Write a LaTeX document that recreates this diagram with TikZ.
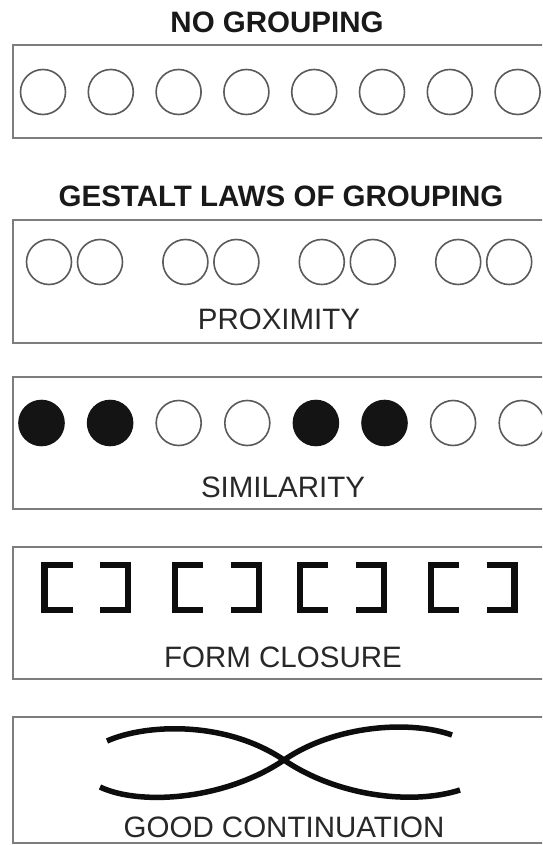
\documentclass[tikz,border=0pt]{standalone}
\usepackage{fontspec}
\setmainfont{Liberation Sans}
\definecolor{boxgray}{RGB}{125,125,125}
\definecolor{circgray}{RGB}{90,90,90}
\definecolor{titlecol}{RGB}{25,25,25}
\definecolor{lblcol}{RGB}{40,40,40}
\begin{document}
\begin{tikzpicture}[x=1pt,y=-1pt,
  panel/.style={draw=boxgray,line width=2pt},
  circ/.style={circle,draw=circgray,line width=1.6pt,minimum size=45pt,inner sep=0pt,outer sep=0pt},
  fcirc/.style={circ,fill=black!92,draw=black!92},
  ttl/.style={font=\fontsize{29.5}{34}\selectfont\bfseries,text=titlecol,anchor=base,inner sep=0pt},
  lbl/.style={font=\fontsize{29.5}{34}\selectfont,text=lblcol,anchor=base,inner sep=0pt},
  brk/.style={line width=6.5pt,draw=black!95,line join=miter},
  curvy/.style={line width=5.5pt,draw=black!95}]
\useasboundingbox (0,0) rectangle (542,845);
\clip (0,0) rectangle (542,845);
\fill[white] (0,0) rectangle (542,845);

% ---------- NO GROUPING ----------
\node[ttl] (t1) at (277,33) {NO GROUPING};
\draw[panel] (13,45) rectangle (570,138);
\foreach \i in {0,...,7} {
  \node[circ] (a\i) at ({43+67.8*\i},92) {};
}

% ---------- PROXIMITY ----------
\node[ttl] (t2) at (281,206) {GESTALT LAWS OF GROUPING};
\draw[panel] (13,220) rectangle (570,343);
\foreach \i in {0,...,3} {
  \node[circ] (p\i a) at ({49+136.4*\i},262) {};
  \node[circ] (p\i b) at ({100+136.4*\i},262) {};
}
\node[lbl] (l2) at (279,329) {PROXIMITY};

% ---------- SIMILARITY ----------
\draw[panel] (13,377) rectangle (570,509);
\foreach \i/\s in {0/fcirc,1/fcirc,2/circ,3/circ,4/fcirc,5/fcirc,6/circ,7/circ} {
  \node[\s] (s\i) at ({41.5+68.6*\i},423) {};
}
\node[lbl] (l3) at (283,497) {SIMILARITY};

% ---------- FORM CLOSURE ----------
\draw[panel] (13,547) rectangle (570,679);
\foreach \xl/\xr [count=\k] in {41.5/100, 172/231, 296.6/356, 428/486.7} {
  \draw[brk] ({\xl+31},565) -- ({\xl+3.2},565) -- ({\xl+3.2},610) -- ({\xl+31},610);
  \draw[brk] (\xr,565) -- ({\xr+27.8},565) -- ({\xr+27.8},610) -- (\xr,610);
}
\node[lbl] (l4) at (283,667) {FORM CLOSURE};

% ---------- GOOD CONTINUATION ----------
\draw[panel] (13,717) rectangle (570,843);
\coordinate (x) at (284,760);
\draw[curvy] (107,741) .. controls (145,724) and (225,720) .. (x)
             .. controls (335,795) and (410,806) .. (460,790);
\draw[curvy] (100,787) .. controls (140,806) and (225,800) .. (x)
             .. controls (335,725) and (410,720) .. (452,735);
\node[lbl] (l5) at (284,837) {GOOD CONTINUATION};
\end{tikzpicture}
\end{document}
